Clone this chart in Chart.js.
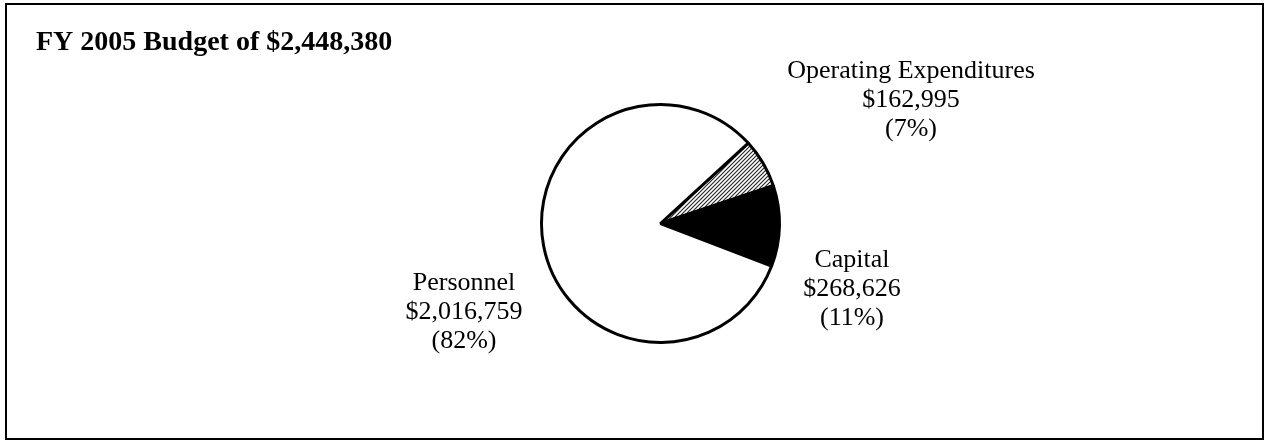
<!DOCTYPE html>
<html><head><meta charset="utf-8">
<script src="https://cdn.jsdelivr.net/npm/chart.js@4.4.1/dist/chart.umd.min.js"></script>
<style>html,body{margin:0;padding:0;background:#fff;} #wrap{position:relative;width:1265px;height:441px;}</style>
</head><body><div id="wrap"><canvas id="c" width="1265" height="441"></canvas></div>
<script>
// ---- data ----
const titleText = 'FY 2005 Budget of $2,448,380';
const categories = ['Operating Expenditures', 'Capital', 'Personnel'];
const values = [162995, 268626, 2016759];
const amountLabels = ['$162,995', '$268,626', '$2,016,759'];
const percentLabels = ['(7%)', '(11%)', '(82%)'];

// ---- label placement (text anchors: center x, first baseline) ----
const labelPlacement = [
  {x: 911, y: 78},
  {x: 852, y: 267},
  {x: 464, y: 290}
];
const lineStep = 29;

const canvas = document.getElementById('c');
const ctx = canvas.getContext('2d');

function makeHatch() {
  const p = document.createElement('canvas');
  p.width = 4; p.height = 4;
  const g = p.getContext('2d');
  g.fillStyle = '#fff'; g.fillRect(0, 0, 4, 4);
  g.strokeStyle = '#222'; g.lineWidth = 1.1;
  g.beginPath();
  g.moveTo(-1, 5); g.lineTo(5, -1);
  g.moveTo(-1, 1); g.lineTo(1, -1);
  g.moveTo(3, 5); g.lineTo(5, 3);
  g.stroke();
  return ctx.createPattern(p, 'repeat');
}

const decor = {
  id: 'decor',
  beforeDraw(chart) {
    const c = chart.ctx;
    c.save();
    c.fillStyle = '#fff';
    c.fillRect(0, 0, chart.width, chart.height);
    c.strokeStyle = '#000';
    c.lineWidth = 2;
    c.strokeRect(6, 4, 1257, 435);
    c.fillStyle = '#000';
    c.font = 'bold 28px "Liberation Serif", "Times New Roman", serif';
    c.textAlign = 'left';
    c.textBaseline = 'alphabetic';
    c.fillText(titleText, 36, 50);
    c.restore();
  },
  afterDraw(chart) {
    const c = chart.ctx;
    c.save();
    c.fillStyle = '#000';
    c.font = '26px "Liberation Serif", "Times New Roman", serif';
    c.textAlign = 'center';
    c.textBaseline = 'alphabetic';
    categories.forEach((cat, i) => {
      const pl = labelPlacement[i];
      [cat, amountLabels[i], percentLabels[i]].forEach((t, k) => {
        c.fillText(t, pl.x, pl.y + k * lineStep);
      });
    });
    c.restore();
  }
};

new Chart(canvas, {
  type: 'pie',
  data: {
    labels: categories,
    datasets: [{
      data: values,
      backgroundColor: [makeHatch(), '#000000', '#ffffff'],
      borderColor: '#000000',
      borderWidth: 3,
      borderAlign: 'center'
    }]
  },
  options: {
    responsive: false,
    animation: false,
    rotation: 47.5,
    layout: {padding: {left: 540, right: 484, top: 103, bottom: 97}},
    plugins: {legend: {display: false}, tooltip: {enabled: false}, title: {display: false}}
  },
  plugins: [decor]
});
</script></body></html>
